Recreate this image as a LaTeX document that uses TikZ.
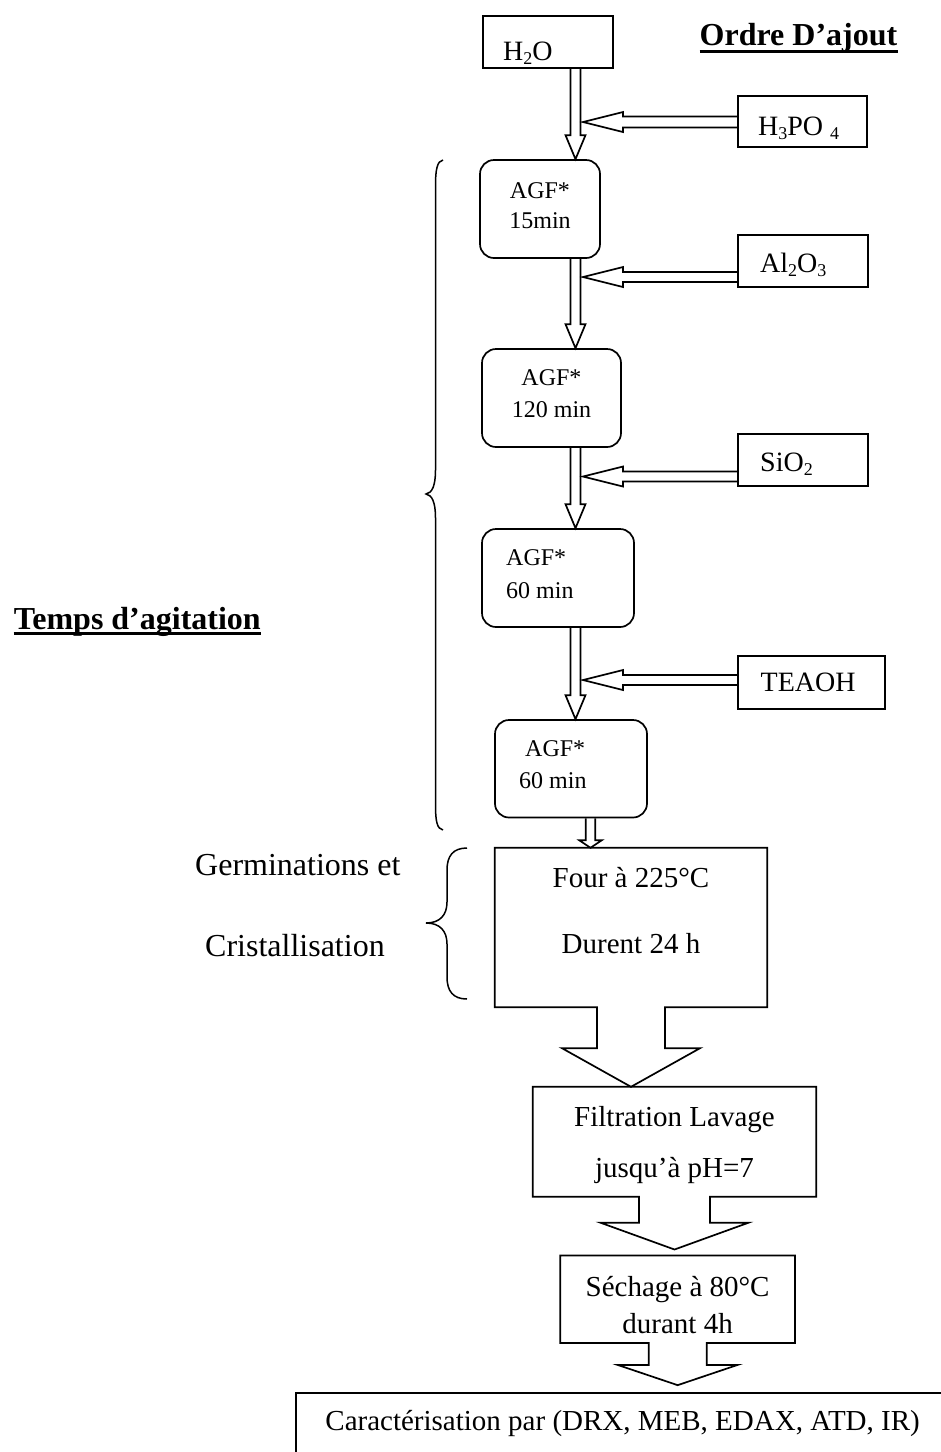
\documentclass[tikz,border=0pt]{standalone}
\usepackage{fontspec}
\setmainfont{Liberation Serif}
\usetikzlibrary{calc,fit}

\newcommand\fs[1]{\fontsize{#1pt}{#1pt}\selectfont}
\newcommand\chsub[1]{\raisebox{-4pt}{\fontsize{18pt}{18pt}\selectfont #1}}

% downward block arrow: from, tip, shaft half width, head half width, head length
\newcommand\vblock[5]{%
  \draw[blk] ($(#1)+(-#3,0)$) -- ($(#2)+(-#3,-#5)$) -- ($(#2)+(-#4,-#5)$) -- (#2)
    -- ($(#2)+(#4,-#5)$) -- ($(#2)+(#3,-#5)$) -- ($(#1)+(#3,0)$);}
% leftward block arrow: from, tip, shaft half height, head half height, head length
\newcommand\hblock[5]{%
  \draw[blk] ($(#1)+(0,-#3)$) -- ($(#2)+(#5,-#3)$) -- ($(#2)+(#5,-#4)$) -- (#2)
    -- ($(#2)+(#5,#4)$) -- ($(#2)+(#5,#3)$) -- ($(#1)+(0,#3)$);}
% box outline merged with a wide downward arrow: box, tip, stem half, stem length, head half
\newcommand\boxarrow[5]{%
  \draw[blk] let \p1=(#1.south), \p2=(#2) in
    (\x1-#3pt,\y1) -- (#1.south west) -- (#1.north west) -- (#1.north east) -- (#1.south east)
    -- (\x1+#3pt,\y1) -- (\x1+#3pt,\y1-#4pt) -- (\x1+#5pt,\y1-#4pt) -- (\p2)
    -- (\x1-#5pt,\y1-#4pt) -- (\x1-#3pt,\y1-#4pt) -- cycle;}

\tikzset{
  boxframe/.style={rectangle, draw, line width=1.7pt, inner sep=0pt},
  agfbox/.style={boxframe, rounded corners=14pt},
  bareframe/.style={rectangle, inner sep=0pt},
  blk/.style={draw, line width=1.7pt, line join=miter},
  bracket/.style={draw, line width=1.5pt},
  chem/.style={inner sep=0pt, anchor=base west, font={\fs{28}}},
  agf/.style={inner sep=0pt, anchor=base, font={\fs{24}}},
  agfl/.style={agf, anchor=base west},
  txt/.style={inner sep=0pt, anchor=base, font={\fs{29}}},
  sidelabel/.style={inner sep=0pt, anchor=base west, font={\fs{32}}},
  headline/.style={inner sep=0pt, anchor=base, font={\fs{32}\bfseries}},
  underbar/.style={line width=3pt},
}

\begin{document}
\begin{tikzpicture}[x=1pt,y=-1pt]
\useasboundingbox (0,0) rectangle (941,1452);
\clip (0,0) rectangle (941,1452);

% ---- boxes ----
\node[boxframe, fit={(483,16) (613,68)}] (h2o) {};
\node[boxframe, fit={(738,96) (867,147)}] (h3po4) {};
\node[agfbox, fit={(480,160) (600,258)}] (agf1) {};
\node[boxframe, fit={(738,235) (868,287)}] (al2o3) {};
\node[agfbox, fit={(482,349) (621,447)}] (agf2) {};
\node[boxframe, fit={(738,434) (868,486)}] (sio2) {};
\node[agfbox, fit={(482,529) (634,627)}] (agf3) {};
\node[boxframe, fit={(738,656) (885,709)}] (teaoh) {};
\node[agfbox, fit={(495,720) (647,817.5)}] (agf4) {};
\node[bareframe, fit={(495,848) (767,1007)}] (four) {};
\node[bareframe, fit={(533,1087) (816,1196.5)}] (filt) {};
\node[bareframe, fit={(560.5,1255.7) (794.8,1342.7)}] (sech) {};
\node[boxframe, fit={(296,1393) (950,1480)}] (carac) {};

% ---- main vertical flow ----
\coordinate (spine) at (575.5,0);
\coordinate (spinelow) at (590.5,0);
\vblock{h2o.south -| spine}{agf1.north -| spine}{5}{10}{24}
\vblock{agf1.south -| spine}{agf2.north -| spine}{5}{10}{24}
\vblock{agf2.south -| spine}{agf3.north -| spine}{5}{10}{24}
\vblock{agf3.south -| spine}{agf4.north -| spine}{5}{10}{24}
\vblock{agf4.south -| spinelow}{four.north -| spinelow}{4.7}{11.2}{7.5}

% ---- reagents joining the flow ----
\coordinate (j1) at (583,122);
\coordinate (j2) at (583,277);
\coordinate (j3) at (583,476.5);
\coordinate (j4) at (583,680);
\hblock{h3po4.west |- j1}{j1}{5.5}{10}{40}
\hblock{al2o3.west |- j2}{j2}{5}{10}{40}
\hblock{sio2.west |- j3}{j3}{5}{10}{40}
\hblock{teaoh.west |- j4}{j4}{5}{10}{40}

% ---- treatment steps ----
\boxarrow{four}{four.south |- filt.north}{34}{41}{69}
\boxarrow{filt}{$(filt.south |- sech.north)+(0,-6)$}{35.5}{26}{74}
\boxarrow{sech}{$(sech.south |- carac.north)+(0,-7)$}{29}{22}{60}

% ---- braces ----
\draw[bracket] (443,160) .. controls (437,161) and (435.5,170) .. (435.5,186)
  -- (435.5,470) .. controls (435.5,486) and (432,493) .. (426,494)
  .. controls (432,495) and (435.5,502) .. (435.5,518)
  -- (435.5,805) .. controls (435.5,821) and (437,829) .. (443,830);
\draw[bracket] (467,848) .. controls (453,848) and (447,856) .. (447,870)
  -- (447,902) .. controls (447,915) and (440,923) .. (426,923)
  .. controls (440,923) and (447,931) .. (447,944)
  -- (447,977) .. controls (447,991) and (453,999) .. (467,999);

% ---- labels ----
\node[headline] (ordre) at (798.5,45) {Ordre D’ajout};
\draw[underbar] ([yshift=-6pt]ordre.base west) -- ([yshift=-6pt]ordre.base east);
\node[headline, anchor=base east] (temps) at (261,629) {Temps d’agitation};
\draw[underbar] ([yshift=-4pt]temps.base west) -- ([yshift=-4pt]temps.base east);

\node[chem] (h2o-t) at (503,60) {H\chsub{2}O};
\node[chem] (h3po4-t) at (758,135) {H\chsub{3}PO \chsub{4}};
\node[chem] (al2o3-t) at (760,272.5) {Al\chsub{2}O\chsub{3}};
\node[chem] (sio2-t) at (760,471) {SiO\chsub{2}};
\node[chem] (teaoh-t) at (760.5,691.5) {TEAOH};

\node[agf] (agf1-a) at (540,198) {AGF*};
\node[agf] (agf1-b) at (540,228) {15min};
\node[agf] (agf2-a) at (551.5,385.5) {AGF*};
\node[agf] (agf2-b) at (551.5,417.5) {120 min};
\node[agfl] (agf3-a) at (506,565.5) {AGF*};
\node[agfl] (agf3-b) at (506,598) {60 min};
\node[agfl] (agf4-a) at (525,756) {AGF*};
\node[agfl] (agf4-b) at (519,788) {60 min};

\node[txt] (four-a) at (631,887) {Four à 225°C};
\node[txt] (four-b) at (631,953) {Durent 24 h};
\node[sidelabel] (germ-a) at (195,875) {Germinations et};
\node[sidelabel] (germ-b) at (205,956.7) {Cristallisation};
\node[txt] (filt-a) at (674.5,1126.5) {Filtration Lavage};
\node[txt] (filt-b) at (674.5,1177) {jusqu’à pH=7};
\node[txt] (sech-a) at (677.6,1296) {Séchage à 80°C};
\node[txt] (sech-b) at (677.6,1333) {durant 4h};
\node[txt, anchor=base east] (carac-t) at (920,1430) {Caractérisation par (DRX, MEB, EDAX, ATD, IR)};
\end{tikzpicture}
\end{document}
